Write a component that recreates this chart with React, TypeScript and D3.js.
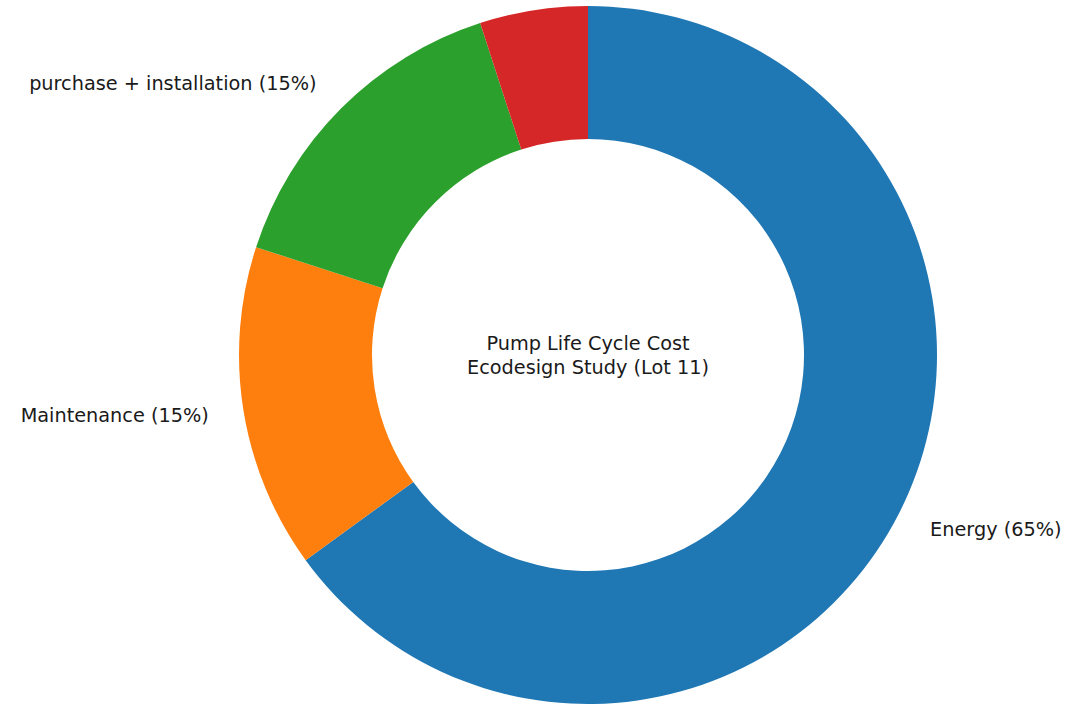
import * as d3 from 'd3';

const categories = ['Energy', 'Maintenance', 'purchase + installation', 'Other'];
const shares = [65, 15, 15, 5];
const colors = ['#1f77b4', '#ff7f0e', '#2ca02c', '#d62728'];
const centerLines = ['Pump Life Cycle Cost', 'Ecodesign Study (Lot 11)'];

const width = 1071;
const height = 705;
const cx = 588;
const cy = 355;
const outerR = 349;
const innerR = 216;
const fontSize = 19.3;

export default function App() {
  const pie = d3
    .pie<number>()
    .sort(null)
    .startAngle(0)
    .endAngle(2 * Math.PI)(shares);
  const arc = d3.arc<d3.PieArcDatum<number>>().innerRadius(innerR).outerRadius(outerR);
  const labelR = outerR * 1.1;

  // label positions; the small slice's label falls above the canvas in the original, so it is left out
  const labels = pie
    .map((d, i) => {
      const a = (d.startAngle + d.endAngle) / 2;
      return { i, x: Math.sin(a) * labelR, y: -Math.cos(a) * labelR };
    })
    .filter((l) => cy + l.y > 0);

  return (
    <svg
      width={width}
      height={height}
      style={{ position: 'absolute', left: 0, top: 0, fontFamily: 'DejaVu Sans' }}>
      <rect width={width} height={height} fill='#fff' />
      <g transform={`translate(${cx}, ${cy})`}>
        {pie.map((d, i) => (
          <path key={categories[i]} d={arc(d) ?? ''} fill={colors[i]} />
        ))}
        {labels.map(({ i, x, y }) => (
          <text
            key={`l-${categories[i]}`}
            x={x}
            y={y}
            fontSize={fontSize}
            fill='#1a1a1a'
            textAnchor={x > 0 ? 'start' : 'end'}
            dominantBaseline='central'>
            {`${categories[i]} (${shares[i]}%)`}
          </text>
        ))}
        {centerLines.map((t, i) => (
          <text
            key={t}
            x={0}
            y={(i - 0.5) * 24}
            fontSize={fontSize}
            fill='#1a1a1a'
            textAnchor='middle'
            dominantBaseline='central'>
            {t}
          </text>
        ))}
      </g>
    </svg>
  );
}
